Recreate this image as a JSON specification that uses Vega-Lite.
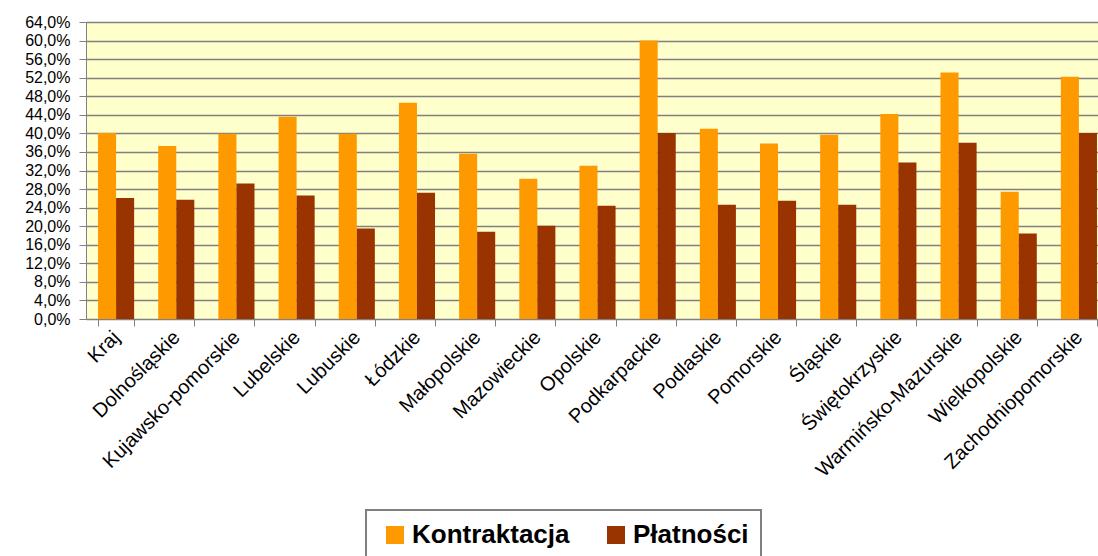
{
  "$schema": "https://vega.github.io/schema/vega-lite/v6.json",
  "autosize": {"type": "none"},
  "width": 1023,
  "height": 297,
  "padding": {"left": 86, "top": 22, "right": -11, "bottom": 237},
  "background": "white",
  "config": {
    "font": "Liberation Sans",
    "view": {"fill": "#FFFFCC", "stroke": null}
  },
  "data": {
    "values": [
      {"region": "Kraj", "series": "Kontraktacja", "value": 0.401},
      {"region": "Kraj", "series": "Płatności", "value": 0.261},
      {"region": "Dolnośląskie", "series": "Kontraktacja", "value": 0.373},
      {"region": "Dolnośląskie", "series": "Płatności", "value": 0.257},
      {"region": "Kujawsko-pomorskie", "series": "Kontraktacja", "value": 0.399},
      {"region": "Kujawsko-pomorskie", "series": "Płatności", "value": 0.292},
      {"region": "Lubelskie", "series": "Kontraktacja", "value": 0.436},
      {"region": "Lubelskie", "series": "Płatności", "value": 0.266},
      {"region": "Lubuskie", "series": "Kontraktacja", "value": 0.399},
      {"region": "Lubuskie", "series": "Płatności", "value": 0.195},
      {"region": "Łódzkie", "series": "Kontraktacja", "value": 0.466},
      {"region": "Łódzkie", "series": "Płatności", "value": 0.272},
      {"region": "Małopolskie", "series": "Kontraktacja", "value": 0.356},
      {"region": "Małopolskie", "series": "Płatności", "value": 0.188},
      {"region": "Mazowieckie", "series": "Kontraktacja", "value": 0.302},
      {"region": "Mazowieckie", "series": "Płatności", "value": 0.201},
      {"region": "Opolskie", "series": "Kontraktacja", "value": 0.330},
      {"region": "Opolskie", "series": "Płatności", "value": 0.244},
      {"region": "Podkarpackie", "series": "Kontraktacja", "value": 0.600},
      {"region": "Podkarpackie", "series": "Płatności", "value": 0.401},
      {"region": "Podlaskie", "series": "Kontraktacja", "value": 0.410},
      {"region": "Podlaskie", "series": "Płatności", "value": 0.246},
      {"region": "Pomorskie", "series": "Kontraktacja", "value": 0.378},
      {"region": "Pomorskie", "series": "Płatności", "value": 0.255},
      {"region": "Śląskie", "series": "Kontraktacja", "value": 0.397},
      {"region": "Śląskie", "series": "Płatności", "value": 0.246},
      {"region": "Świętokrzyskie", "series": "Kontraktacja", "value": 0.442},
      {"region": "Świętokrzyskie", "series": "Płatności", "value": 0.337},
      {"region": "Warmińsko-Mazurskie", "series": "Kontraktacja", "value": 0.531},
      {"region": "Warmińsko-Mazurskie", "series": "Płatności", "value": 0.380},
      {"region": "Wielkopolskie", "series": "Kontraktacja", "value": 0.274},
      {"region": "Wielkopolskie", "series": "Płatności", "value": 0.184},
      {"region": "Zachodniopomorskie", "series": "Kontraktacja", "value": 0.522},
      {"region": "Zachodniopomorskie", "series": "Płatności", "value": 0.401}
    ]
  },
  "mark": {"type": "bar"},
  "encoding": {
    "x": {
      "field": "region",
      "type": "nominal",
      "sort": null,
      "scale": {"paddingInner": 0.4, "paddingOuter": 0.2},
      "axis": {
        "title": null,
        "labelAngle": -45,
        "labelAlign": "right",
        "labelBaseline": "middle",
        "labelFontSize": 20,
        "labelColor": "black",
        "labelPadding": 8,
        "labelLimit": 400,
        "tickBand": "extent",
        "tickSize": 7,
        "tickColor": "#808080",
        "domainColor": "#808080",
        "labelOverlap": false
      }
    },
    "xOffset": {"field": "series", "type": "nominal", "scale": {"paddingInner": 0, "paddingOuter": 0}},
    "y": {
      "field": "value",
      "type": "quantitative",
      "scale": {"domain": [0, 0.64], "nice": false},
      "axis": {
        "title": null,
        "labelExpr": "replace(format(datum.value, '.1%'), '.', ',')",
        "values": [0, 0.04, 0.08, 0.12, 0.16, 0.2, 0.24, 0.28, 0.32, 0.36, 0.4, 0.44, 0.48, 0.52, 0.56, 0.6, 0.64],
        "labelFontSize": 16,
        "labelColor": "black",
        "labelPadding": 9,
        "labelOverlap": false,
        "labelBound": false,
        "labelFlush": false,
        "tickSize": 7,
        "tickColor": "#808080",
        "domainColor": "#808080",
        "grid": true,
        "gridColor": "#808080",
        "gridWidth": 1.3,
        "gridOpacity": 1
      }
    },
    "color": {
      "field": "series",
      "type": "nominal",
      "scale": {"domain": ["Kontraktacja", "Płatności"], "range": ["#FF9900", "#993300"]},
      "legend": {
        "title": null,
        "orient": "none",
        "legendX": 280,
        "legendY": 488,
        "direction": "horizontal",
        "symbolType": "square",
        "symbolSize": 324,
        "symbolStrokeWidth": 0,
        "symbolOffset": 4,
        "labelFontSize": 26,
        "labelFontWeight": "bold",
        "labelColor": "black",
        "labelOffset": 4,
        "labelLimit": 400,
        "columnPadding": 29,
        "padding": 12,
        "strokeColor": "#808080",
        "fillColor": "white",
        "encode": {"legend": {"update": {"strokeWidth": {"value": 2}}}}
      }
    }
  }
}
